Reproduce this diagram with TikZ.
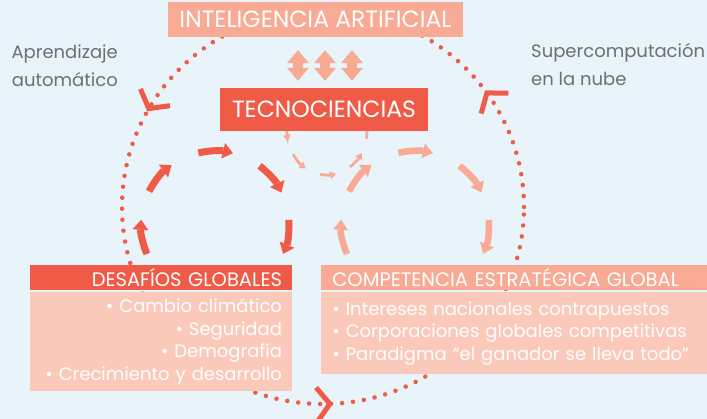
\documentclass[tikz,border=0pt]{standalone}
\usepackage{fontspec}
\setmainfont{Poppins}
\usepackage{tikz}
\usetikzlibrary{arrows.meta}
\usetikzlibrary{positioning}
\usetikzlibrary{decorations.markings}
\definecolor{tecred}{RGB}{240,91,72}
\definecolor{tecsalmon}{RGB}{248,170,148}
\definecolor{tecpink}{RGB}{251,201,185}
\definecolor{bgblue}{RGB}{232,243,250}
\definecolor{labelgray}{RGB}{110,111,114}
\tikzset{
    box/.style={inner sep=0pt, text=white, font=\fontsize{23.5}{25}\selectfont},
    header/.style={inner xsep=10pt, inner ysep=0pt, text width=242pt, minimum height=25pt,
        text=white, font=\fontsize{19.5}{20}\selectfont},
    bodybox/.style={fill=tecpink, inner xsep=10pt, inner ysep=0pt, text=white,
        font=\fontsize{18}{22.5}\selectfont},
    sidetext/.style={inner sep=0pt, text=labelgray, font=\fontsize{18}{28}\selectfont},
    biarrow/.style={draw=tecsalmon, line width=10pt,
        {Triangle[width=22pt,length=13pt,line width=0pt]}-{Triangle[width=22pt,length=13pt,line width=0pt]}},
    redflow/.style={draw=tecred, line width=7pt, -{Triangle[width=16pt,length=10pt,line width=0pt]}},
    salmonflow/.style={draw=tecsalmon, line width=6.5pt, -{Triangle[width=15pt,length=10pt,line width=0pt]}},
    smallflow/.style={draw=tecsalmon, line width=2.8pt, -{Triangle[width=8pt,length=6pt,line width=0pt]}},
    cycledots/.style={draw=tecred, line width=4.5pt, line cap=round, dash pattern=on 0pt off 11pt,
        postaction={decorate, solid}, decoration={markings,
        mark=at position 0.1 with {\arrow[tecred]{Straight Barb[length=13pt,width=34pt,line width=5pt]}},
        mark=at position 0.42 with {\arrow[tecred]{Straight Barb[length=13pt,width=34pt,line width=5pt]}},
        mark=at position 0.758 with {\arrow[tecred]{Straight Barb[length=13pt,width=34pt,line width=5pt]}}}}
}
\begin{document}
\begin{tikzpicture}[x=1pt,y=1pt]
	\fill[bgblue] (0,0) rectangle (707,419);
	\useasboundingbox (0,0) rectangle (707,419);
	% gran ciclo punteado
	\draw[cycledots] (323,212) ellipse [x radius=201, y radius=197];
	% cajas
	\node[box, fill=tecsalmon, minimum width=295pt, minimum height=35pt] (ia) at (315.5,399.5) {INTELIGENCIA ARTIFICIAL};
	\node[box, fill=tecred, minimum width=208pt, minimum height=43pt] (tecno) at (324,309.5) {TECNOCIENCIAS};
	\node[header, fill=tecred, align=right] (desafios) at (161,141.5) {DESAFÍOS GLOBALES};
	\node[header, fill=tecsalmon, align=left, inner xsep=11pt, text width=364pt, right=29pt of desafios] (competencia) {COMPETENCIA ESTRATÉGICA GLOBAL};
	\node[bodybox, align=right, text width=242pt, minimum height=99pt, below right=2pt and 0pt of desafios.south west] (desafiosbody)
		{• Cambio climático\\• Seguridad\\• Demografía\\• Crecimiento y desarrollo};
	\node[bodybox, align=left, inner xsep=11pt, text width=364pt, minimum height=82pt, below right=2pt and 0pt of competencia.south west] (competenciabody)
		{• Intereses nacionales contrapuestos\\• Corporaciones globales competitivas\\• Paradigma “el ganador se lleva todo”};
	\node[sidetext, align=right, anchor=east] (aprendizaje) at (118,353) {Aprendizaje\\automático};
	\node[sidetext, align=left, anchor=west] (supercomp) at (531,354.5) {Supercomputación\\en la nube};
	% flechas dobles
	\foreach \dx in {-26,1,28}
		\draw[biarrow, shorten <=7pt, shorten >=13pt] ([xshift=\dx pt]tecno.north) -- ([xshift=\dx pt]tecno.north |- ia.south);
	% ciclos
	\coordinate (izq) at (215,194);
	\coordinate (der) at (415,194);
	\coordinate (mini) at (327,288);
	\foreach \a in {203,153,103,53,4}{
		\draw[redflow] (izq) ++(\a:74pt) arc[start angle=\a, end angle=\a-27, radius=74pt];
		\draw[salmonflow] (der) ++(\a:74pt) arc[start angle=\a, end angle=\a-27, radius=74pt];
	}
	\foreach \a/\b in {180/193,212/238,260/283,305/330}
		\draw[smallflow] (mini) ++({40*cos(\a)},{44*sin(\a)}) arc[start angle=\a, end angle=\b, x radius=40pt, y radius=44pt];
	\draw[draw=tecsalmon, line width=2.8pt] (mini) ++({40*cos(350)},{44*sin(350)}) arc[start angle=350, end angle=360, x radius=40pt, y radius=44pt];
\end{tikzpicture}
\end{document}
